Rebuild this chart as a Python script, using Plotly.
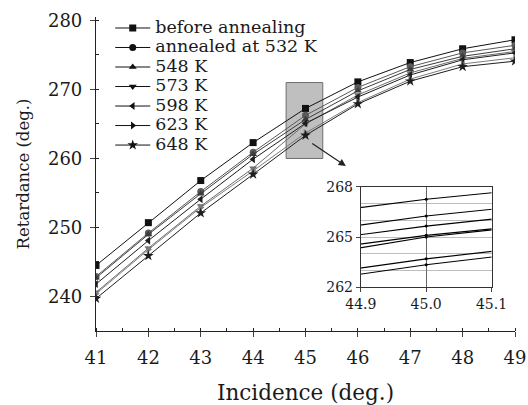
import plotly.graph_objects as go

# Angle of incidence (deg.)
incidence = [41, 42, 43, 44, 45, 46, 47, 48, 49]

# Retardance (deg.) for each annealing condition
before_annealing = [244.5, 250.7, 256.8, 262.3, 267.25, 271.1, 273.9, 275.9, 277.2]
annealed_532K = [242.9, 249.2, 255.2, 260.9, 266.25, 270.3, 273.3, 275.3, 276.4]
annealed_548K = [242.7, 249.0, 254.9, 260.6, 265.65, 269.8, 272.9, 274.8, 275.9]
annealed_573K = [240.6, 247.0, 253.1, 258.6, 265.0, 269.2, 272.4, 274.5, 275.5]
annealed_598K = [241.8, 248.1, 254.1, 259.9, 265.1, 268.9, 272.1, 274.3, 275.3]
annealed_623K = [240.4, 246.8, 252.9, 258.2, 263.7, 268.1, 271.5, 273.7, 274.6]
annealed_648K = [239.7, 245.9, 252.1, 257.7, 263.35, 267.9, 271.2, 273.3, 274.1]

series_names = ["before annealing", "annealed at 532 K", "548 K", "573 K",
                "598 K", "623 K", "648 K"]
series_values = [before_annealing, annealed_532K, annealed_548K, annealed_573K,
                 annealed_598K, annealed_623K, annealed_648K]
symbols = ["square", "circle", "triangle-up", "triangle-down",
           "triangle-left", "triangle-right", "star"]
colors = ["#111111", "#5a5a5a", "#3c3c3c", "#6e6e6e", "#1e1e1e", "#7c7c7c", "#1e1e1e"]
sizes = [7, 7, 7, 7, 7, 7, 8]

# Zoomed window shown in the inset
inset_x = [44.9, 45.0, 45.1]
inset_y_ticks = [262, 265, 268]
# Highlight box around the zoomed region on the main axes
box_x = [44.63, 45.33]
box_y = [260.0, 271.0]

FONT = "DejaVu Serif"

fig = go.Figure()

# Main curves (legend handled by the black key entries below)
for name, vals, sym, col, sz in zip(series_names, series_values, symbols, colors, sizes):
    fig.add_trace(go.Scatter(
        x=incidence, y=vals, name=name, mode="lines+markers", showlegend=False,
        legendgroup=name,
        line=dict(color=col, width=1),
        marker=dict(symbol=sym, size=sz, color=col),
        xaxis="x", yaxis="y",
    ))

# Legend key: black line + marker for every condition
for name, sym, sz in zip(series_names, symbols, sizes):
    fig.add_trace(go.Scatter(
        x=[None], y=[None], mode="lines+markers", legendgroup=name,
        name=f"<span style='font-size:17.5px'>{name}</span>",
        line=dict(color="#111111", width=1),
        marker=dict(symbol=sym, size=sz, color="#111111"),
        xaxis="x", yaxis="y",
    ))

# Inset: same data, magnified around 45 deg.
for vals in series_values:
    fig.add_trace(go.Scatter(
        x=incidence, y=vals, mode="lines+markers", showlegend=False,
        line=dict(color="black", width=1.1),
        marker=dict(symbol="circle", size=3, color="black"),
        xaxis="x2", yaxis="y2", hoverinfo="skip",
    ))

fig.add_shape(type="rect", xref="x", yref="y",
              x0=box_x[0], x1=box_x[1], y0=box_y[0], y1=box_y[1],
              fillcolor="#bfbfbf", line=dict(color="#6e6e6e", width=1),
              layer="below")

fig.add_annotation(xref="x", yref="y", axref="x", ayref="y",
                   x=45.77, y=258.9, ax=45.10, ay=262.3,
                   showarrow=True, arrowhead=2, arrowsize=1.2, arrowwidth=1.2,
                   arrowcolor="#222222", text="")

fig.update_layout(
    width=528, height=405,
    margin=dict(l=96, r=13, t=17, b=74),
    paper_bgcolor="white", plot_bgcolor="white",
    font=dict(family=FONT, color="#1a1a1a"),
    showlegend=True,
    legend=dict(
        x=0.034, y=1.012, xanchor="left", yanchor="top",
        bgcolor="rgba(0,0,0,0)", font=dict(size=12.7, family=FONT),
        itemwidth=35, tracegroupgap=0,
    ),
    xaxis=dict(
        range=[41, 49], tickvals=incidence, ticks="outside", ticklen=5,
        showline=True, linecolor="#222222", linewidth=1.2, showgrid=False,
        zeroline=False, tickfont=dict(size=18), ticklabelstandoff=5,
        automargin=False,
        minor=dict(dtick=0.5, ticks="inside", ticklen=3, tickcolor="#222222"),
        title=dict(text="Incidence (deg.)", font=dict(size=21.5), standoff=20),
    ),
    yaxis=dict(
        range=[235, 280.5], tickvals=[240, 250, 260, 270, 280], ticks="outside",
        ticklen=5, showline=True, linecolor="#222222", linewidth=1.2,
        showgrid=False, zeroline=False, tickfont=dict(size=18),
        ticklabelstandoff=4, automargin=False,
        minor=dict(dtick=5, ticks="inside", ticklen=3, tickcolor="#222222"),
        title=dict(text="Retardance (deg.)", font=dict(size=16.5), standoff=14),
    ),
    xaxis2=dict(
        domain=[0.632, 0.944], anchor="y2", range=[inset_x[0], inset_x[-1]],
        tickvals=inset_x, ticktext=["44.9", "45.0", "45.1"],
        ticks="outside", ticklen=4, showline=True, mirror=True,
        linecolor="#333333", linewidth=1, showgrid=True, gridcolor="#666666",
        gridwidth=1, zeroline=False, tickfont=dict(size=14), automargin=False,
    ),
    yaxis2=dict(
        domain=[0.139, 0.4596], anchor="x2", range=[262, 268],
        tickvals=inset_y_ticks, ticks="outside", ticklen=4, showline=True,
        mirror=True, linecolor="#333333", linewidth=1, showgrid=False,
        zeroline=False, tickfont=dict(size=14), automargin=False,
        minor=dict(dtick=1, showgrid=True, gridcolor="#bdbdbd", ticks=""),
    ),
)

fig.write_html("out.html")
